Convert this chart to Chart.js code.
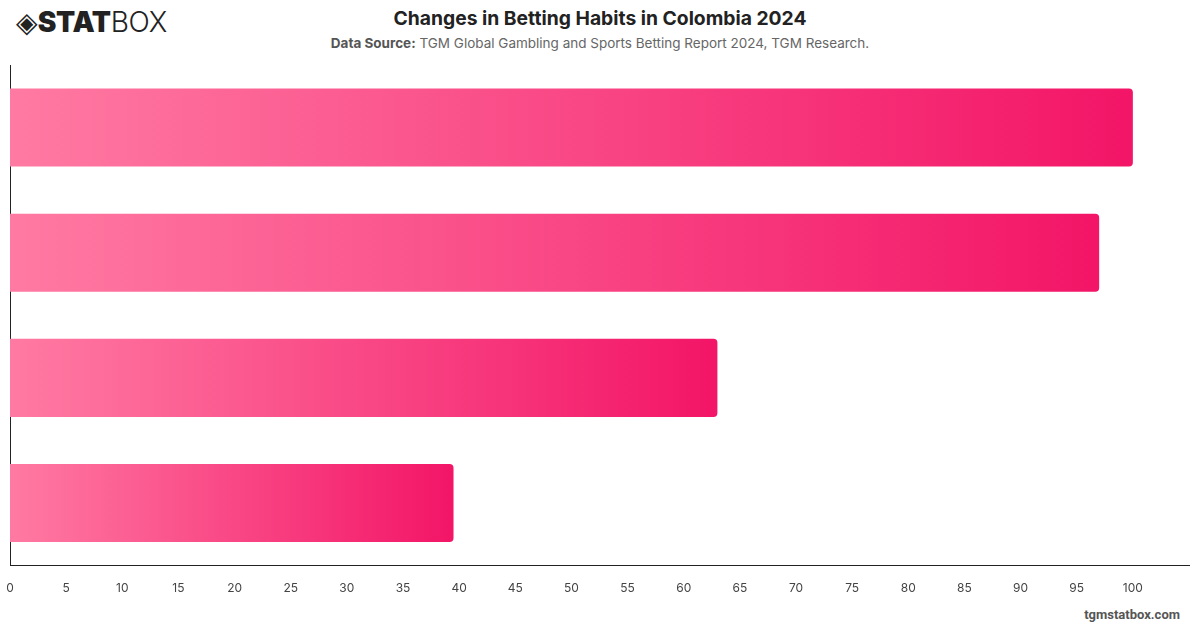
<!DOCTYPE html>
<html>
<head>
<meta charset="utf-8">
<script src="https://cdn.jsdelivr.net/npm/chart.js@4.4.1/dist/chart.umd.min.js"></script>
<style>
  body { margin: 0; background: #fff; font-family: Inter, "Noto Sans", sans-serif; }
  #wrap { position: relative; width: 1200px; height: 628px; }
  #logo { position: absolute; left: 16px; top: 5px; font-size: 28px; color: #222; letter-spacing: -0.3px; }
  #logo b { font-weight: 900; }
  #logo span { font-weight: 300; }
  #title { position: absolute; left: 0; width: 1200px; top: 6px; text-align: center; font-size: 19.3px; font-weight: 700; color: #222; }
  #sub { position: absolute; left: 0; width: 1200px; top: 35px; text-align: center; font-size: 13.5px; color: #666; }
  #sub b { color: #555; }
  #foot { position: absolute; right: 20px; top: 607px; font-size: 13px; font-weight: 700; color: #555; font-family: Roboto, sans-serif; }
  canvas { position: absolute; left: 0; top: 0; }
</style>
</head>
<body>
<div id="wrap">
  <div id="logo">&#9672;<b>STAT</b><span>BOX</span></div>
  <div id="title">Changes in Betting Habits in Colombia 2024</div>
  <div id="sub"><b>Data Source:</b> TGM Global Gambling and Sports Betting Report 2024, TGM Research.</div>
  <div id="foot">tgmstatbox.com</div>
  <canvas id="chart" width="1200" height="628"></canvas>
</div>
<script>
// ===== DATA =====
const categories = ['Betting more often', 'Spending more', 'Trying new games', 'Using new platforms'];
const values = [100, 97, 63, 39.5];
const tickValues = [0, 5, 10, 15, 20, 25, 30, 35, 40, 45, 50, 55, 60, 65, 70, 75, 80, 85, 90, 95, 100];

// gradient per bar, from the axis to the end of the bar
function barGradient(ctx){
    const chart = ctx.chart;
    const x = chart.scales.x;
    if (!x || !chart.chartArea) return '#f5166a';
    const x0 = x.getPixelForValue(0);
    const x1 = x.getPixelForValue(values[ctx.dataIndex]);
    const g = chart.ctx.createLinearGradient(x0, 0, x1, 0);
    g.addColorStop(0, '#ff7aa3');
    g.addColorStop(1, '#f31567');
    return g;
}

new Chart(document.getElementById('chart'), {
    type: 'bar',
    data: {
        labels: categories,
        datasets: [{
            data: values,
            backgroundColor: barGradient,
            borderRadius: { topRight: 4, bottomRight: 4 },
            borderSkipped: false,
            barPercentage: 0.78,
            categoryPercentage: 0.8
        }]
    },
    options: {
        indexAxis: 'y',
        responsive: false,
        animation: false,
        layout: { padding: { top: 65, left: 10, right: 11, bottom: 16 } },
        plugins: { legend: { display: false }, tooltip: { enabled: false } },
        scales: {
            x: {
                min: 0,
                max: 105,
                afterBuildTicks: function(axis){
                    axis.ticks = tickValues.map(v => ({ value: v }));
                },
                afterFit: function(axis){ axis.paddingLeft = 0; axis.paddingRight = 0; },
                grid: { display: false, drawTicks: false },
                border: { display: true, color: '#222', width: 1 },
                ticks: { color: '#444', padding: 16, font: { size: 12, family: 'Inter' } }
            },
            y: {
                afterFit: function(axis){ axis.width = 0; },
                grid: { display: false, drawTicks: false },
                border: { display: true, color: '#222', width: 1 },
                ticks: { display: false }
            }
        }
    }
});
</script>
</body>
</html>
